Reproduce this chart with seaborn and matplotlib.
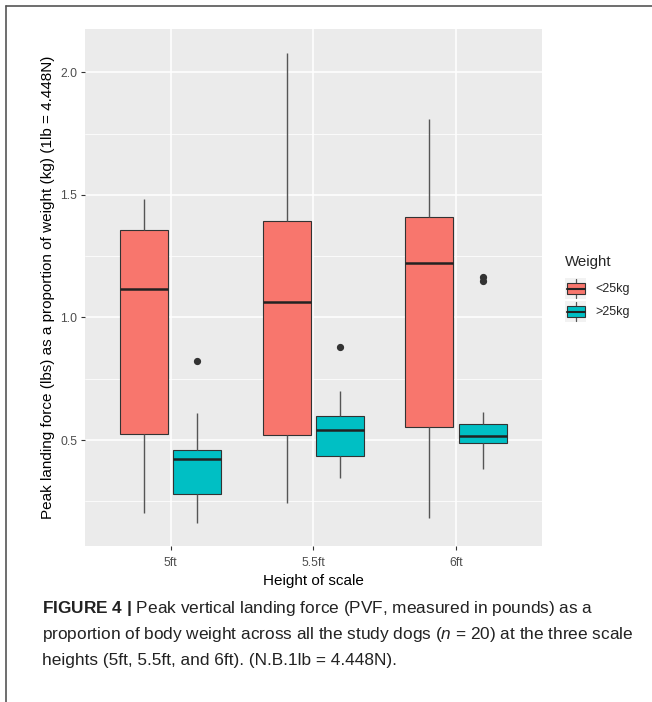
import numpy as np
import pandas as pd
import matplotlib
matplotlib.use("Agg")
import matplotlib.pyplot as plt
import seaborn as sns
from matplotlib.patches import Rectangle, Patch
from matplotlib.lines import Line2D
from matplotlib.legend_handler import HandlerBase

# ---- data ----
heights = ["5ft", "5.5ft", "6ft"]
weights = ["<25kg", ">25kg"]
# groups in order: 5ft<25, 5ft>25, 5.5ft<25, 5.5ft>25, 6ft<25, 6ft>25
whisker_lo = [0.201, 0.163, 0.242, 0.347, 0.181, 0.381]
q1 = [0.526, 0.279, 0.522, 0.434, 0.552, 0.488]
median = [1.116, 0.423, 1.064, 0.541, 1.222, 0.517]
q3 = [1.356, 0.458, 1.395, 0.598, 1.411, 0.564]
whisker_hi = [1.482, 0.612, 2.080, 0.702, 1.808, 0.616]
outliers = [[], [0.824], [], [0.880], [], [1.148, 1.165]]
colors = ["#F8766D", "#00BFC4"]
yticks = [0.5, 1.0, 1.5, 2.0]
yminor = [0.25, 0.75, 1.25, 1.75]

# build observations reproducing each box's summary
rows = []
g = 0
for h in heights:
    for w in weights:
        extra = outliers[g] + [whisker_hi[g]] * (2 - len(outliers[g]))
        vals = ([whisker_lo[g]] + [q1[g]] * 3 + [median[g]] * 3 + [q3[g]] * 3
                + [whisker_hi[g]] + extra)
        for v in vals:
            rows.append({"Height": h, "Weight": w, "Value": v})
        g += 1
df = pd.DataFrame(rows)

sns.set_style("white")
plt.rcParams["font.family"] = ["Liberation Sans", "DejaVu Sans"]
plt.rcParams["mathtext.fontset"] = "custom"
plt.rcParams["mathtext.rm"] = "Liberation Sans"
plt.rcParams["mathtext.it"] = "Liberation Sans:italic"
plt.rcParams["mathtext.bf"] = "Liberation Sans:bold"

W, H = 652, 702
fig = plt.figure(figsize=(W / 100, H / 100), dpi=100)
fig.patch.set_facecolor("white")

px_l, px_r, px_t, px_b = 85, 541.7, 29.3, 546
ax = fig.add_axes([px_l / W, 1 - px_b / H, (px_r - px_l) / W, (px_b - px_t) / H])

sns.boxplot(data=df, x="Height", y="Value", hue="Weight", order=heights,
            hue_order=weights, palette=dict(zip(weights, colors)), saturation=1,
            width=0.75, gap=0.1, linecolor="#333333", linewidth=0.8,
            showcaps=False,
            whiskerprops=dict(color="#555555", linewidth=1.0),
            flierprops=dict(marker="o", markersize=4.2, markerfacecolor="#333333",
                            markeredgecolor="#333333"),
            medianprops=dict(linewidth=1.8, color="#222222"),
            ax=ax)
if ax.get_legend() is not None:
    ax.get_legend().remove()

ax.set_xlim(-0.6, 2.6)
ax.set_ylim(0.068, 2.175)
ax.set_facecolor("#EBEBEB")
ax.set_yticks(yticks)
ax.set_yticklabels([f"{t:.1f}" for t in yticks])
ax.set_yticks(yminor, minor=True)
ax.grid(which="major", color="white", linewidth=1.1)
ax.grid(which="minor", axis="y", color="white", linewidth=0.55)
ax.set_axisbelow(True)
for s in ax.spines.values():
    s.set_visible(False)
ax.tick_params(which="major", length=3.2, width=0.8, color="#333333",
               labelcolor="#4D4D4D", labelsize=8.8, pad=2.5,
               left=True, bottom=True)
ax.tick_params(axis="x", which="major", pad=4.5)
ax.tick_params(which="minor", length=0)
ax.set_xlabel("Height of scale", fontsize=11, color="black", labelpad=3.5)
ax.set_ylabel("Peak landing force (lbs) as a proportion of weight (kg) (1lb = 4.448N)",
              fontsize=11, color="black", labelpad=4)


class BoxKey(HandlerBase):
    def create_artists(self, legend, orig_handle, xdescent, ydescent, width,
                       height, fontsize, trans):
        x0, y0 = -xdescent, -ydescent
        fc = orig_handle.get_facecolor()
        arts = [
            Rectangle((x0, y0), width, height, facecolor="#F2F2F2",
                      edgecolor="none", transform=trans),
            Line2D([x0 + 0.5 * width] * 2, [y0 + 0.06 * height, y0 + 0.22 * height],
                   color="#555555", lw=0.9, transform=trans),
            Line2D([x0 + 0.5 * width] * 2, [y0 + 0.78 * height, y0 + 0.94 * height],
                   color="#555555", lw=0.9, transform=trans),
            Rectangle((x0 + 0.08 * width, y0 + 0.22 * height), 0.84 * width,
                      0.56 * height, facecolor=fc, edgecolor="#333333", lw=0.8,
                      transform=trans),
            Line2D([x0 + 0.08 * width, x0 + 0.92 * width], [y0 + 0.5 * height] * 2,
                   color="#222222", lw=1.5, transform=trans),
        ]
        return arts


handles = [Patch(facecolor=c) for c in colors]
leg = fig.legend(handles, weights, handler_map={Patch: BoxKey()},
                 loc="upper left", bbox_to_anchor=(565 / W, 1 - 255 / H),
                 frameon=False, title="Weight", fontsize=9,
                 title_fontsize=10.8, handlelength=1.7, handleheight=2.21,
                 labelspacing=0.16, handletextpad=0.75, borderpad=0,
                 borderaxespad=0)
leg._legend_box.align = "left"
leg._legend_box.sep = 6.5

# caption
cap_font = ["Liberation Sans", "DejaVu Sans"]
cap_size = 12.4
fig.text(42 / W, 1 - 608 / H,
         r"$\mathbf{FIGURE\ 4\ |}$ Peak vertical landing force (PVF, measured in pounds) as a",
         fontsize=cap_size, family=cap_font, color="#222222", va="center", ha="left")
fig.text(42 / W, 1 - 634 / H,
         r"proportion of body weight across all the study dogs ($n$ = 20) at the three scale",
         fontsize=cap_size, family=cap_font, color="#222222", va="center", ha="left")
fig.text(42 / W, 1 - 660 / H,
         "heights (5ft, 5.5ft, and 6ft). (N.B.1lb = 4.448N).",
         fontsize=cap_size, family=cap_font, color="#222222", va="center", ha="left")

# frame lines
fig.add_artist(Line2D([6 / W, 6 / W], [0, 1 - 6 / H], transform=fig.transFigure,
                      color="#555555", lw=1.2))
fig.add_artist(Line2D([6 / W, 1], [1 - 6 / H, 1 - 6 / H], transform=fig.transFigure,
                      color="#555555", lw=1.2))

fig.savefig("out.png", dpi=100)
